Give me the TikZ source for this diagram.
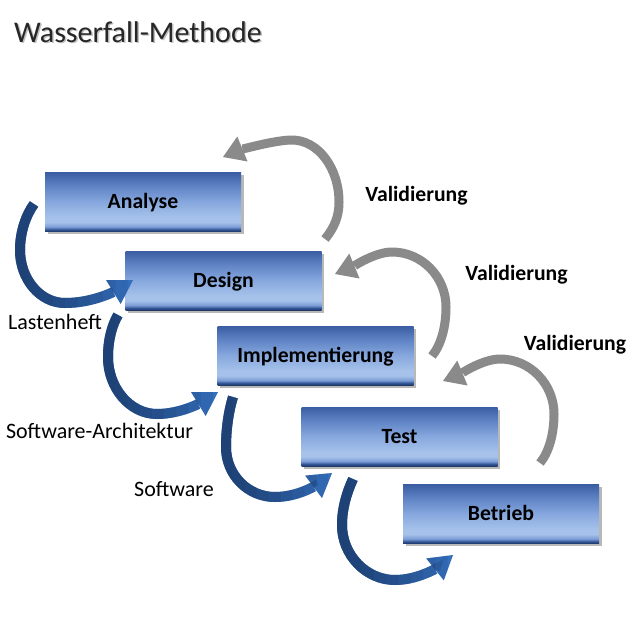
\documentclass[tikz,border=0pt]{standalone}
\usepackage{fontspec}
\setmainfont{Carlito}
\usetikzlibrary{arrows.meta,shadows}

\definecolor{bx0}{RGB}{31,58,104}
\definecolor{bx1}{RGB}{45,80,145}
\definecolor{bx2}{RGB}{124,157,214}
\definecolor{bx3}{RGB}{166,194,234}
\definecolor{bx4}{RGB}{135,168,222}
\definecolor{bx5}{RGB}{93,129,195}
\definecolor{bx6}{RGB}{59,94,162}
\definecolor{blight}{RGB}{56,120,202}
\definecolor{bdark}{RGB}{24,48,90}
\definecolor{garr}{RGB}{138,138,138}
\definecolor{titlegray}{RGB}{38,38,38}

\pgfdeclareverticalshading{boxshade}{100bp}{color(0bp)=(bx0); color(25bp)=(bx0); color(26.5bp)=(bx1); color(29bp)=(bx2); color(33bp)=(bx3); color(37bp)=(bx3); color(50bp)=(bx4); color(64bp)=(bx5); color(75bp)=(bx6); color(100bp)=(bx6)}

% #1 path, #2 left x of the gradient, #3 right x of the gradient
\newcommand\bluearrow[3]{%
  \draw[blueband, draw=blight] #1;
  \foreach \k in {1,...,10}{%
    \begin{scope}
      \clip (0,0) rectangle ({#2+(#3-#2)*\k/10}, 635);
      \draw[blueband, draw=bdark, opacity=0.12] #1;
    \end{scope}}}

\begin{document}
\begin{tikzpicture}[x=1pt,y=-1pt,
  stage/.style={rectangle, minimum width=196pt, minimum height=59pt, inner sep=0pt,
    text height=13pt, text depth=0pt, shading=boxshade, shading angle=0,
    drop shadow={shadow xshift=2.5pt, shadow yshift=-2.5pt, opacity=0.28, fill=black},
    font=\bfseries\fontsize{21.7}{26}\selectfont, text=black},
  lab/.style={anchor=base, inner sep=0pt, font=\fontsize{22}{26}\selectfont, text=black},
  val/.style={anchor=base, inner sep=0pt, font=\bfseries\fontsize{21.7}{26}\selectfont, text=black},
  blueband/.style={line width=10pt, -{Triangle[length=23pt,width=28pt,line width=0pt]}},
  grayband/.style={line width=9pt, draw=garr, -{Triangle[length=21pt,width=27pt,line width=0pt]}}]

\fill[white] (0,0) rectangle (636,635);
\useasboundingbox (0,0) rectangle (636,635);

% title
\node[anchor=base west, inner sep=0pt, font=\fontsize{30}{36}\selectfont, text=black!45, opacity=0.55] (titleshadow) at (15.5,43.5) {Wasserfall-Methode};
\node[anchor=base west, inner sep=0pt, font=\fontsize{30}{36}\selectfont, text=titlegray] (title) at (14,42) {Wasserfall-Methode};

% stages
\node[stage] (analyse) at (143,202) {Analyse};
\node[stage] (design) at (223.5,280.5) {Design};
\node[stage] (impl) at (315.5,355.5) {Implementierung};
\node[stage] (test) at (399.5,436.5) {Test};
\node[stage] (betrieb) at (501,514) {Betrieb};

% labels
\node[lab] (l1) at (55,329.5) {Lastenheft};
\node[lab] (l2) at (99.5,438.3) {Software-Architektur};
\node[lab] (l3) at (174,496) {Software};
\node[val] (v1) at (416.5,201.7) {Validierung};
\node[val] (v2) at (516.5,280.7) {Validierung};
\node[val] (v3) at (575,350) {Validierung};

% arrow end points
\coordinate (b1s) at (34,204);   \coordinate (b1e) at (133,280);
\coordinate (b2s) at (118,315);  \coordinate (b2e) at (218,392);
\coordinate (b3s) at (233,397);  \coordinate (b3e) at (332,473);
\coordinate (b4s) at (353,479);  \coordinate (b4e) at (453,555);
\coordinate (g1s) at (325,239);  \coordinate (g1e) at (223,157);
\coordinate (g2s) at (432,356);  \coordinate (g2e) at (335,274);
\coordinate (g3s) at (540,463);  \coordinate (g3e) at (443,381);

% blue (forward) arrows
\bluearrow{(b1s) .. controls (26,215) and (20,232) .. (20,250) .. controls (20,279) and (40,303) .. (65,303) .. controls (93,303) and (115,291) .. (b1e)}{15}{140}
\bluearrow{(b2s) .. controls (112,325) and (108,340) .. (108,357) .. controls (108,388) and (130,414) .. (157,414) .. controls (180,414) and (200,403) .. (b2e)}{103}{225}
\bluearrow{(b3s) .. controls (229,410) and (226,428) .. (226,447) .. controls (226,475) and (248,497) .. (275,497) .. controls (298,497) and (316,485) .. (b3e)}{221}{340}
\bluearrow{(b4s) .. controls (347,492) and (342,508) .. (342,525) .. controls (342,555) and (366,580) .. (395,580) .. controls (418,580) and (438,567) .. (b4e)}{337}{460}

% gray (validation) arrows
\draw[grayband] (g1s) .. controls (334,228) and (339,217) .. (339,202) .. controls (339,168) and (318,140) .. (292,140) .. controls (275,140) and (240,150) .. (g1e);
\draw[grayband] (g2s) .. controls (441,345) and (446,327) .. (446,307) .. controls (446,277) and (422,252) .. (392,252) .. controls (375,252) and (352,267) .. (g2e);
\draw[grayband] (g3s) .. controls (549,452) and (554,434) .. (554,414) .. controls (554,384) and (530,359) .. (500,359) .. controls (483,359) and (460,374) .. (g3e);
\end{tikzpicture}
\end{document}
